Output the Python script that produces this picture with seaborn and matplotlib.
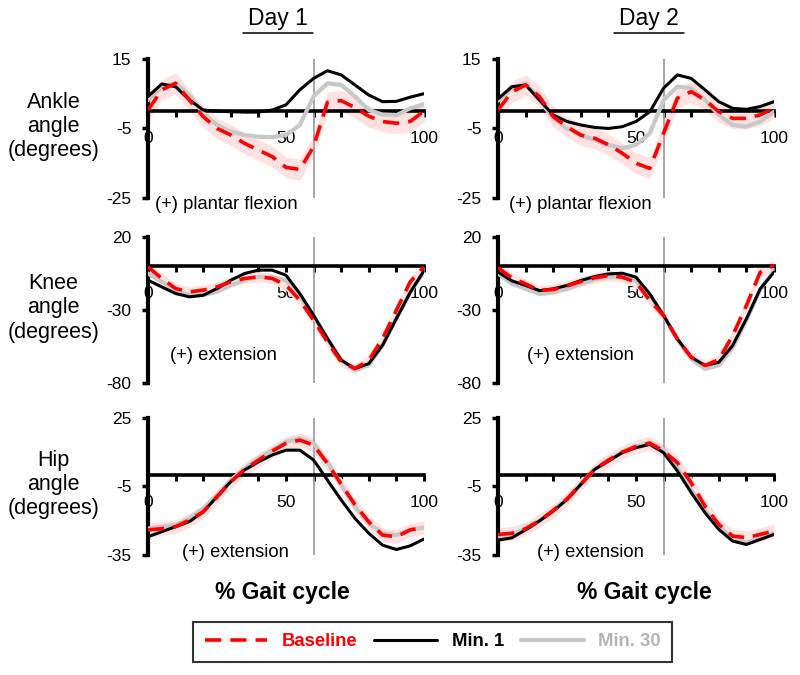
import matplotlib
matplotlib.use("Agg")
import matplotlib.pyplot as plt
from matplotlib.lines import Line2D
import seaborn as sns

# % of gait cycle where every curve was read
pct = [0, 5, 10, 15, 20, 25, 30, 35, 40, 45, 50, 55, 60, 65, 70, 75, 80, 85, 90, 95, 100]

# Ankle angle (degrees)
ankle_base_d1 = [0.3, 6.1, 8.0, 3.2, -1.6, -5.0, -6.9, -9.3, -11.2, -13.1, -16.2, -16.8, -10.2, 2.5, 3.0, 1.0, -1.5, -3.0, -3.5, -3.0, 0.0]
ankle_min1_d1 = [4.2, 7.8, 7.0, 3.2, 0.3, 0.0, -0.2, -0.3, -0.3, 0.3, 1.8, 6.1, 9.4, 11.6, 10.4, 7.5, 4.6, 2.7, 2.8, 4.0, 5.0]
ankle_min30_d1 = [3.2, 7.0, 8.0, 4.6, -0.6, -4.0, -5.9, -6.9, -7.4, -7.5, -6.9, -4.0, 4.2, 8.0, 7.5, 4.2, 0.3, -1.0, -1.2, 0.8, 2.0]
ankle_base_d2 = [0.3, 5.5, 7.5, 4.2, -1.6, -4.5, -6.9, -7.8, -9.7, -12.1, -15.0, -16.5, -6.4, 3.7, 5.6, 3.2, -0.2, -2.1, -2.1, -1.1, 0.8]
ankle_min1_d2 = [3.5, 7.0, 7.5, 3.2, -1.1, -3.0, -4.0, -4.7, -5.0, -4.5, -3.0, -0.2, 6.6, 10.4, 9.4, 6.1, 2.7, 0.8, 0.5, 1.3, 2.7]
ankle_min30_d2 = [3.0, 6.5, 8.0, 3.2, -2.1, -5.0, -6.9, -8.3, -9.7, -10.7, -9.7, -6.4, 3.2, 7.0, 6.6, 3.2, -1.1, -4.0, -4.5, -3.0, -0.2]

# Knee angle (degrees)
knee_base_d1 = [-0.5, -8.4, -15.3, -17.6, -16.4, -14.2, -10.7, -8.4, -7.3, -8.4, -13.0, -23.3, -37.0, -51.8, -65.5, -70.1, -64.4, -49.5, -30.1, -10.7, -0.5]
knee_min1_d1 = [-9.6, -14.2, -18.7, -21.0, -19.9, -15.3, -9.6, -5.0, -2.7, -2.7, -6.2, -18.7, -33.6, -49.5, -64.4, -70.1, -66.7, -54.1, -35.8, -18.0, -3.0]
knee_min30_d1 = [-5.0, -10.7, -16.4, -19.9, -19.9, -17.6, -13.0, -9.6, -7.3, -7.3, -9.6, -19.9, -34.7, -49.5, -64.4, -71.2, -67.8, -54.1, -35.8, -18.0, -4.0]
knee_base_d2 = [-1.0, -8.0, -12.1, -16.7, -16.0, -13.5, -10.5, -8.0, -6.4, -7.5, -11.0, -23.5, -33.8, -50.0, -62.3, -68.0, -64.0, -47.5, -27.0, -4.1, 0.5]
knee_min1_d2 = [-4.0, -10.0, -13.2, -16.7, -15.5, -13.2, -9.8, -7.1, -5.3, -4.8, -7.5, -19.0, -33.8, -49.8, -62.3, -68.0, -65.8, -54.3, -36.0, -15.5, -4.1]
knee_min30_d2 = [-5.0, -12.0, -15.5, -19.0, -17.8, -15.5, -12.1, -9.1, -7.5, -7.5, -9.8, -20.1, -33.8, -50.0, -63.5, -70.3, -68.0, -56.0, -37.0, -16.0, -3.0]

# Hip angle (degrees)
hip_base_d1 = [-24.0, -23.5, -22.6, -19.7, -16.1, -9.5, -3.0, 2.5, 6.5, 10.5, 13.9, 15.3, 13.1, 5.1, -4.0, -13.0, -20.5, -26.3, -27.0, -24.0, -23.0]
hip_min1_d1 = [-27.0, -24.8, -22.6, -20.4, -16.1, -9.5, -2.9, 2.2, 5.8, 8.8, 10.9, 10.9, 6.6, -2.2, -10.9, -19.0, -25.5, -30.7, -32.6, -31.0, -28.0]
hip_min30_d1 = [-23.4, -22.6, -21.9, -19.0, -14.6, -8.8, -2.2, 2.9, 7.3, 10.9, 14.6, 16.1, 13.9, 5.8, -4.4, -13.9, -21.2, -25.5, -26.3, -24.0, -23.0]
hip_base_d2 = [-26.0, -25.5, -23.5, -20.0, -15.5, -10.5, -4.0, 2.5, 6.5, 10.0, 12.5, 14.0, 10.5, 5.4, -3.4, -13.6, -21.6, -26.7, -27.4, -26.0, -24.5]
hip_min1_d2 = [-28.5, -27.5, -24.0, -20.1, -15.8, -10.7, -4.1, 2.5, 6.1, 9.8, 12.0, 13.4, 9.8, 1.8, -7.7, -16.5, -23.8, -28.9, -30.4, -28.2, -26.0]
hip_min30_d2 = [-27.0, -26.0, -23.5, -20.0, -15.5, -10.5, -4.0, 2.5, 6.5, 10.2, 12.5, 14.2, 11.2, 3.2, -6.5, -15.5, -22.5, -27.5, -29.6, -27.5, -25.5]

# baseline SD band (degrees) per joint
base_sd = {"ankle": 3.0, "knee": 3.5, "hip": 3.0}

toe_off = 60
days = ["Day 1", "Day 2"]
series_names = ["Baseline", "Min. 1", "Min. 30"]
row_labels = ["Ankle\nangle\n(degrees)", "Knee\nangle\n(degrees)", "Hip\nangle\n(degrees)"]
row_ticks = [[-25, -5, 15], [-80, -30, 20], [-35, -5, 25]]
row_notes = ["(+) plantar flexion", "(+) extension", "(+) extension"]

data = {
    "ankle": [[ankle_base_d1, ankle_min1_d1, ankle_min30_d1], [ankle_base_d2, ankle_min1_d2, ankle_min30_d2]],
    "knee": [[knee_base_d1, knee_min1_d1, knee_min30_d1], [knee_base_d2, knee_min1_d2, knee_min30_d2]],
    "hip": [[hip_base_d1, hip_min1_d1, hip_min30_d1], [hip_base_d2, hip_min1_d2, hip_min30_d2]],
}
joints = ["ankle", "knee", "hip"]

sns.set_style("white")
plt.rcParams["font.family"] = ["Liberation Sans", "DejaVu Sans"]
plt.rcParams.update({"text.color": "black", "axes.edgecolor": "black",
                     "xtick.color": "black", "ytick.color": "black"})

fig = plt.figure(figsize=(8, 6.75), dpi=100)

col_left = [0.185, 0.6225]
col_w = 0.345
row_box = [(0.7067, 0.206), (0.4326, 0.2163), (0.1778, 0.203)]
# note positions in data units per row/day
note_pos = [[(2.5, -27.0), (4.0, -27.0)], [(8.0, -61.5), (10.5, -61.5)], [(12.3, -34.1), (14.0, -34.1)]]

colors = ["#ff0000", "#000000", "#c8c8c8"]

for r, joint in enumerate(joints):
    for c in range(2):
        bottom, height = row_box[r]
        ax = fig.add_axes([col_left[c], bottom, col_w, height])
        base, m1, m30 = data[joint][c]
        sd = base_sd[joint]

        ax.fill_between(pct, [v - sd for v in base], [v + sd for v in base],
                        color="#ffe1e1", lw=0, zorder=1)
        ax.axvline(toe_off, color="#a0a0a0", lw=1.3, zorder=1.5)
        sns.lineplot(x=pct, y=m30, ax=ax, color=colors[2], lw=3.0, zorder=3)
        sns.lineplot(x=pct, y=m1, ax=ax, color=colors[1], lw=2.2, zorder=4)
        sns.lineplot(x=pct, y=base, ax=ax, color=colors[0], lw=2.6, zorder=5)
        ax.lines[-1].set_dashes([4.5, 2.5])

        lo, mid, hi = row_ticks[r]
        ax.set_xlim(0, 100)
        ax.set_ylim(lo, hi)
        ax.set_yticks(row_ticks[r])
        ax.set_yticklabels([str(v) for v in row_ticks[r]])
        ax.set_xticks(range(0, 101, 10))
        ax.set_xticklabels(["0", "", "", "", "", "50", "", "", "", "", "100"])

        for s in ["top", "right"]:
            ax.spines[s].set_visible(False)
        ax.spines["left"].set_linewidth(3)
        ax.spines["bottom"].set_linewidth(2.6)
        ax.spines["bottom"].set_position(("data", 0))
        ax.spines["left"].set_zorder(2.5)
        ax.spines["bottom"].set_zorder(2.5)
        ax.tick_params(axis="y", left=True, direction="out", length=4, width=2.5,
                       labelsize=12.5, pad=8)
        ax.tick_params(axis="x", bottom=True, direction="out", length=4, width=2.2,
                       labelsize=12.5, pad=10.5)
        ax.set_xlabel("")
        ax.set_ylabel("")
        ax.patch.set_alpha(0)

        nx, ny = note_pos[r][c]
        ax.text(nx, ny, row_notes[r], fontsize=13.2, ha="left", va="center", clip_on=False)

    fig.text(0.067, row_box[r][0] + row_box[r][1] / 2 + 0.003, row_labels[r],
             fontsize=15.5, ha="center", va="center", linespacing=1.2)

# column titles (underlined) and x labels
for x_t, x_g, title in [(0.3475, 0.3525, days[0]), (0.811, 0.806, days[1])]:
    fig.text(x_t, 0.972, title, fontsize=16.5, ha="center", va="center")
    fig.add_artist(Line2D([x_t - 0.044, x_t + 0.044], [0.951, 0.951], color="black", lw=1.1))
    fig.text(x_g, 0.1215, "% Gait cycle", fontsize=16.5, fontweight="bold", ha="center", va="center")

handles = [
    Line2D([0], [0], color=colors[0], lw=2.6, dashes=[4.5, 2.5]),
    Line2D([0], [0], color=colors[1], lw=2.2),
    Line2D([0], [0], color=colors[2], lw=3.0),
]
leg = fig.legend(handles, series_names, loc="center", bbox_to_anchor=(0.541, 0.049),
                 ncol=3, frameon=True, fancybox=False, handlelength=3.4, columnspacing=0.9,
                 handletextpad=0.8, borderpad=0.6, prop={"size": 13.3, "weight": "bold"})
leg.get_frame().set_edgecolor("black")
leg.get_frame().set_linewidth(1.5)
for txt, col in zip(leg.get_texts(), ["#ff0000", "#000000", "#b4b4b4"]):
    txt.set_color(col)

fig.savefig("out.png", dpi=100)
